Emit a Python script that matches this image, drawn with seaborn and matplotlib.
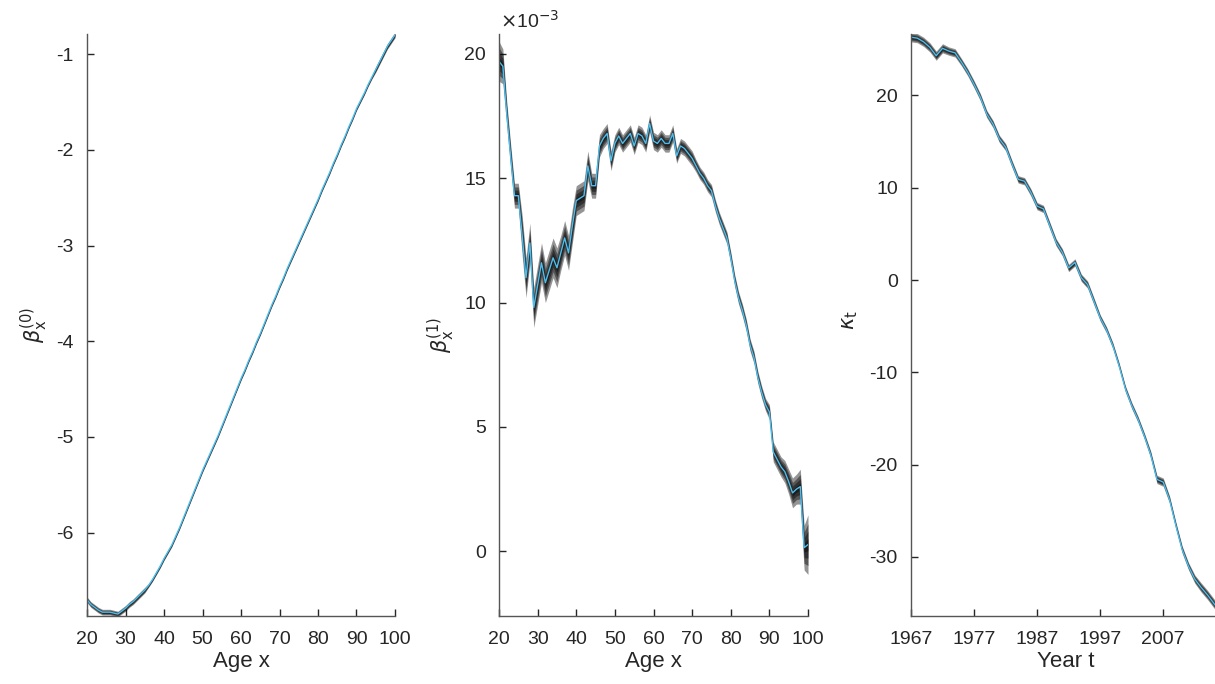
import numpy as np
import pandas as pd
import matplotlib
matplotlib.use("Agg")
import matplotlib.pyplot as plt
import seaborn as sns

# ----------------------------------------
# Data
# ----------------------------------------
ages = list(range(20, 101))

beta0 = [
    -6.70, -6.75, -6.78, -6.81, -6.83, -6.83, -6.83, -6.84, -6.85, -6.82,
    -6.79, -6.75, -6.72, -6.68, -6.64, -6.60, -6.55, -6.49, -6.42, -6.35,
    -6.27, -6.20, -6.13, -6.04, -5.95, -5.85, -5.75, -5.65, -5.55, -5.45,
    -5.35, -5.26, -5.17, -5.08, -4.99, -4.89, -4.79, -4.69, -4.59, -4.49,
    -4.39, -4.30, -4.20, -4.11, -4.01, -3.92, -3.82, -3.72, -3.62, -3.53,
    -3.43, -3.34, -3.24, -3.15, -3.06, -2.97, -2.88, -2.79, -2.70, -2.61,
    -2.52, -2.42, -2.33, -2.24, -2.14, -2.05, -1.95, -1.86, -1.76, -1.67,
    -1.57, -1.49, -1.41, -1.32, -1.24, -1.16, -1.08, -1.00, -0.92, -0.86,
    -0.80,
]
beta0_spread = [
    0.03, 0.03, 0.03, 0.03, 0.03, 0.03, 0.03, 0.03, 0.03, 0.03,
    0.03, 0.03, 0.03, 0.03, 0.03, 0.03, 0.02, 0.02, 0.02, 0.02,
    0.02, 0.02, 0.02, 0.02, 0.02, 0.02, 0.02, 0.02, 0.02, 0.02,
    0.02, 0.02, 0.02, 0.02, 0.02, 0.02, 0.02, 0.02, 0.02, 0.02,
    0.02, 0.02, 0.02, 0.02, 0.02, 0.02, 0.02, 0.02, 0.02, 0.02,
    0.02, 0.02, 0.02, 0.02, 0.02, 0.02, 0.02, 0.02, 0.02, 0.02,
    0.02, 0.02, 0.02, 0.02, 0.02, 0.02, 0.02, 0.02, 0.02, 0.02,
    0.02, 0.02, 0.02, 0.02, 0.02, 0.03, 0.03, 0.03, 0.03, 0.03,
    0.03,
]

# beta1 in units of 1e-3
beta1 = [
    19.7, 19.5, 17.6, 15.9, 14.3, 14.3, 12.7, 11.0, 12.4, 9.8,
    10.7, 11.6, 10.8, 11.3, 11.8, 11.4, 12.0, 12.6, 12.0, 13.1,
    14.1, 14.2, 14.3, 15.5, 14.7, 14.7, 16.3, 16.6, 16.8, 15.7,
    16.4, 16.7, 16.4, 16.6, 16.8, 16.3, 16.8, 16.7, 16.4, 17.2,
    16.5, 16.4, 16.6, 16.4, 16.4, 16.8, 15.9, 16.3, 16.2, 16.0,
    15.8, 15.5, 15.2, 15.0, 14.7, 14.5, 13.9, 13.4, 13.0, 12.6,
    11.8, 10.9, 10.2, 9.7, 9.1, 8.3, 7.8, 7.0, 6.4, 5.9,
    5.6, 4.0, 3.7, 3.4, 3.2, 2.8, 2.35, 2.5, 2.6, 0.15,
    0.27,
]
beta1_spread = [
    0.8, 0.7, 0.5, 0.5, 0.5, 0.5, 0.8, 0.8, 0.8, 0.8,
    0.8, 0.8, 0.8, 0.8, 0.8, 0.8, 0.7, 0.7, 0.7, 0.7,
    0.6, 0.6, 0.6, 0.6, 0.5, 0.5, 0.45, 0.4, 0.4, 0.4,
    0.35, 0.35, 0.35, 0.35, 0.35, 0.35, 0.35, 0.35, 0.35, 0.35,
    0.35, 0.35, 0.35, 0.35, 0.35, 0.35, 0.3, 0.3, 0.3, 0.3,
    0.3, 0.25, 0.25, 0.25, 0.25, 0.25, 0.25, 0.25, 0.25, 0.25,
    0.25, 0.25, 0.25, 0.25, 0.25, 0.25, 0.25, 0.25, 0.25, 0.25,
    0.3, 0.4, 0.4, 0.4, 0.45, 0.5, 0.6, 0.6, 0.7, 0.9,
    1.2,
]

years = list(range(1967, 2017))
kappa = [
    26.3, 26.2, 25.8, 25.2, 24.3, 25.1, 24.8, 24.6, 23.6, 22.5,
    21.2, 19.8, 18.0, 16.9, 15.3, 14.4, 12.6, 10.9, 10.7, 9.5,
    8.0, 7.7, 5.9, 4.1, 3.0, 1.3, 1.9, 0.25, -0.5, -2.3,
    -4.1, -5.4, -7.1, -9.3, -11.8, -13.6, -15.1, -16.9, -18.9, -21.6,
    -21.9, -23.8, -26.6, -29.2, -31.0, -32.4, -33.3, -34.1, -35.0, -35.9,
]
kappa_spread = [
    0.5, 0.5, 0.5, 0.5, 0.5, 0.5, 0.45, 0.45, 0.4, 0.4,
    0.4, 0.4, 0.4, 0.4, 0.4, 0.4, 0.4, 0.4, 0.4, 0.4,
    0.4, 0.4, 0.4, 0.4, 0.4, 0.4, 0.4, 0.4, 0.4, 0.4,
    0.35, 0.35, 0.35, 0.35, 0.35, 0.35, 0.35, 0.35, 0.4, 0.45,
    0.45, 0.4, 0.4, 0.4, 0.4, 0.45, 0.5, 0.5, 0.5, 0.5,
]

# ----------------------------------------
# Style
# ----------------------------------------
sns.set_theme(style="ticks")
plt.rcParams["font.family"] = ["Liberation Sans", "DejaVu Sans"]
plt.rcParams["axes.unicode_minus"] = False
plt.rcParams["mathtext.fontset"] = "dejavusans"

LINE_COLOR = "#4DBEEE"
TEXT_COLOR = "#262626"
SPINE_COLOR = "#555555"

fig = plt.figure(figsize=(12.15, 6.84), dpi=100)

W, H = 1215, 684
ax0 = fig.add_axes([87 / W, 68 / H, 308 / W, 582 / H])
ax1 = fig.add_axes([499 / W, 68 / H, 309 / W, 582 / H])
ax2 = fig.add_axes([911 / W, 68 / H, 309 / W, 582 / H])


def draw_panel(ax, x, y, spread):
    df = pd.DataFrame({"x": x, "y": y})
    y = np.array(y)
    spread = np.array(spread)
    # layered bands: darker towards the centre
    for frac in [1.0, 0.7, 0.45, 0.2]:
        ax.fill_between(x, y - frac * spread, y + frac * spread,
                        color="black", alpha=0.42, linewidth=0)
    sns.lineplot(data=df, x="x", y="y", ax=ax, color=LINE_COLOR,
                 linewidth=1.0, estimator=None)


def style_axis(ax):
    sns.despine(ax=ax)
    for side in ["left", "bottom"]:
        ax.spines[side].set_color(SPINE_COLOR)
        ax.spines[side].set_linewidth(1.0)
    ax.tick_params(direction="in", length=5, width=1, color=TEXT_COLOR,
                   labelsize=14, labelcolor=TEXT_COLOR)
    ax.tick_params(axis="x", pad=11)
    ax.tick_params(axis="y", pad=9.5)
    ax.grid(False)


# ========================================
# 1. beta0
# ========================================
draw_panel(ax0, ages, beta0, beta0_spread)
ax0.set_xlim(20, 100)
ax0.set_ylim(-6.87, -0.79)
ax0.set_xticks(range(20, 101, 10))
ax0.set_yticks([-6, -5, -4, -3, -2, -1])
ax0.set_xlabel("Age x", fontsize=16, color=TEXT_COLOR, labelpad=2)
ax0.set_ylabel(r"$\beta_{\mathrm{x}}^{(0)}$", fontsize=15, color=TEXT_COLOR)
ax0.yaxis.set_label_coords(-0.12, 0.50)
style_axis(ax0)

# ========================================
# 2. beta1
# ========================================
draw_panel(ax1, ages, beta1, beta1_spread)
ax1.set_xlim(20, 100)
ax1.set_ylim(-2.6, 20.8)
ax1.set_xticks(range(20, 101, 10))
ax1.set_yticks([0, 5, 10, 15, 20])
ax1.set_xlabel("Age x", fontsize=16, color=TEXT_COLOR, labelpad=2)
ax1.set_ylabel(r"$\beta_{\mathrm{x}}^{(1)}$", fontsize=15, color=TEXT_COLOR)
ax1.yaxis.set_label_coords(-0.136, 0.483)
style_axis(ax1)
fig.text(500 / W, 1 - 28 / H, r"$\times$10$^{-3}$", fontsize=14,
         color=TEXT_COLOR, ha="left", va="baseline")

# ========================================
# 3. kappa
# ========================================
draw_panel(ax2, years, kappa, kappa_spread)
ax2.set_xlim(1967, 2016)
ax2.set_ylim(-36.4, 26.65)
ax2.set_xticks(range(1967, 2008, 10))
ax2.set_yticks([-30, -20, -10, 0, 10, 20])
ax2.set_xlabel("Year t", fontsize=16, color=TEXT_COLOR, labelpad=2)
ax2.set_ylabel(r"$\kappa_{\mathrm{t}}$", fontsize=15, color=TEXT_COLOR)
ax2.yaxis.set_label_coords(-0.165, 0.509)
style_axis(ax2)

fig.savefig("out.png", dpi=100)
plt.close(fig)
